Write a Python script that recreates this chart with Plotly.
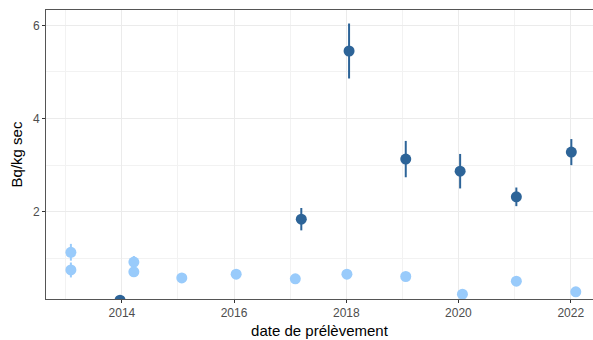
import plotly.graph_objects as go

# Sampling dates and activities (Bq/kg dry weight) with uncertainties
light_dates = ["2013-02-03", "2013-02-03", "2014-03-20", "2014-03-20", "2015-01-26",
               "2016-01-15", "2017-02-03", "2018-01-05", "2019-01-23", "2020-01-27",
               "2021-01-12", "2022-02-03"]
light_values = [1.13, 0.75, 0.92, 0.71, 0.58, 0.66, 0.56, 0.66, 0.61, 0.23, 0.51, 0.28]
light_errors = [0.18, 0.16, 0.13, 0.11, 0.09, 0.05, 0.05, 0.05, 0.05, 0.05, 0.05, 0.05]

dark_dates = ["2013-12-20", "2017-03-14", "2018-01-19", "2019-01-23", "2020-01-12",
              "2021-01-12", "2022-01-05"]
dark_values = [0.10, 1.84, 5.45, 3.13, 2.87, 2.32, 3.28]
dark_errors = [0.05, 0.24, 0.59, 0.39, 0.37, 0.20, 0.28]

x_tick_values = ["2014-01-01", "2016-01-01", "2018-01-01", "2020-01-01", "2022-01-01"]
x_tick_labels = ["2014", "2016", "2018", "2020", "2022"]
y_tick_values = [2, 4, 6]

LIGHT = "#99cbfb"
DARK = "#2d6498"

fig = go.Figure()
fig.add_trace(go.Scatter(
    x=light_dates, y=light_values, mode="markers",
    marker=dict(color=LIGHT, size=11),
    error_y=dict(type="data", array=light_errors, color=LIGHT, thickness=2, width=0),
    showlegend=False,
))
fig.add_trace(go.Scatter(
    x=dark_dates, y=dark_values, mode="markers",
    marker=dict(color=DARK, size=11),
    error_y=dict(type="data", array=dark_errors, color=DARK, thickness=2, width=0),
    showlegend=False,
))

axis_font = dict(family="Liberation Sans, Arial, sans-serif", size=12, color="#4d4d4d")
title_font = dict(family="Liberation Sans, Arial, sans-serif", size=15, color="#000000")

fig.update_layout(
    width=593, height=340,
    margin=dict(l=46, r=0, t=10, b=41),
    paper_bgcolor="white", plot_bgcolor="white",
    xaxis=dict(
        type="date",
        range=["2012-08-25", "2022-05-26"],
        tickvals=x_tick_values, ticktext=x_tick_labels,
        tickfont=axis_font,
        ticks="outside", ticklen=3, tickcolor="#333333", tickwidth=1,
        showgrid=True, gridcolor="#ebebeb", gridwidth=1,
        minor=dict(dtick="M12", tick0="2013-01-01", showgrid=True,
                   gridcolor="#f2f2f2", gridwidth=1),
        showline=True, linecolor="#555555", linewidth=1, mirror=True,
        zeroline=False,
        title=dict(text="date de prélèvement", font=title_font, standoff=6),
    ),
    yaxis=dict(
        range=[0.127, 6.33],
        tickvals=y_tick_values,
        tickfont=axis_font,
        ticks="outside", ticklen=3, tickcolor="#333333", tickwidth=1,
        showgrid=True, gridcolor="#ebebeb", gridwidth=1,
        minor=dict(dtick=1, tick0=1, showgrid=True, gridcolor="#f2f2f2", gridwidth=1),
        showline=True, linecolor="#555555", linewidth=1, mirror=False,
        zeroline=False,
        title=dict(text="Bq/kg sec", font=title_font, standoff=6),
    ),
)

fig.write_html("out.html")
